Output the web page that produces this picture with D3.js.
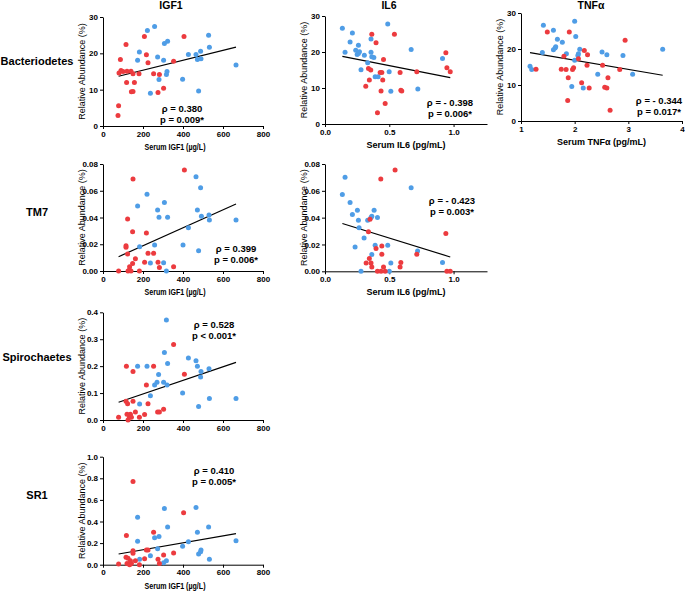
<!DOCTYPE html>
<html>
<head>
<meta charset="utf-8">
<script src="https://cdn.jsdelivr.net/npm/d3@7"></script>
<style>
  body { margin: 0; background: #fff; }
  svg { display: block; font-family: Arial, "Liberation Sans", sans-serif; }
  .axis path, .axis line { stroke: #000; stroke-width: 1px; }
  .axis text { font-size: 8px; font-weight: bold; fill: #000; }
  .fit { stroke: #000; stroke-width: 1.2px; fill: none; }
  .stat { font-size: 9.5px; font-weight: bold; }
</style>
</head>
<body>
<svg id="chart" width="685" height="593"></svg>
<script>
// colours of the two groups
const RED = "#ec3b3f";
const BLUE = "#4f9de6";

// Bacteriodetes vs IGF1  [x, y]
const bactIGF1Red = [[115,22.4],[207,24.6],[405,24.6],[87,18.3],[217,19.6],[225,17.4],[353,17.8],
  [80,14.6],[90,15.3],[100,15.0],[120,15.1],[140,15.1],[150,14.4],[180,14.4],[118,12.0],[157,12.0],
  [142,9.4],[150,9.5],[78,5.6],[75,2.9],[253,14.4],[282,14.2],[275,9.2],[303,10.4]];
const bactIGF1Blue = [[222,26.3],[258,27.4],[182,20.4],[173,18.1],[273,19.0],[303,18.1],[307,22.7],
  [323,23.3],[280,12.8],[317,14.2],[320,15.0],[237,9.0],[398,12.9],[427,19.7],[465,19.7],[472,18.3],
  [488,20.6],[490,18.5],[478,9.6],[528,25.0],[532,21.7],[665,16.8]];
const bactIGF1Fit = [[78,13.7],[665,21.7]];

// Bacteriodetes vs IL6
const bactIL6Red = [[0.364,24.9],[0.397,22.6],[0.54,24.9],[0.455,17.9],[0.338,15.4],[0.356,15.0],
  [0.345,12.2],[0.317,10.5],[0.429,14.3],[0.442,14.3],[0.449,12.2],[0.436,9.2],[0.468,5.7],[0.408,3.1],
  [0.584,14.3],[0.59,9.4],[0.597,9.2],[0.714,14.5],[0.94,19.8],[0.948,15.6],[0.974,14.5]];
const bactIL6Blue = [[0.135,26.6],[0.213,25.3],[0.195,22.8],[0.156,19.9],[0.239,20.5],[0.26,21.9],
  [0.26,19.6],[0.268,20.1],[0.25,19.3],[0.306,19.1],[0.28,15.1],[0.332,17.0],[0.358,23.6],[0.358,19.9],
  [0.364,18.7],[0.38,18.5],[0.39,13.1],[0.413,13.1],[0.488,27.8],[0.499,14.5],[0.512,9.1],[0.67,20.7],
  [0.722,9.7],[0.914,18.2]];
const bactIL6Fit = [[0.135,18.8],[0.974,12.9]];

// Bacteriodetes vs TNFa
const bactTNFRed = [[1.49,24.7],[1.9,24.7],[2.94,22.4],[2.18,19.6],[2.24,18.4],[1.80,18.0],[2.07,17.3],
  [1.28,14.4],[1.75,14.4],[1.84,14.3],[1.96,14.3],[1.98,14.8],[2.23,15.5],[2.52,15.5],[2.84,14.3],
  [1.88,12.0],[2.13,10.6],[2.62,12.0],[2.27,9.2],[2.56,9.4],[2.6,9.2],[1.87,5.7],[2.66,3.0]];
const bactTNFBlue = [[1.417,26.6],[1.604,25.2],[1.678,22.7],[1.77,21.9],[1.398,19.0],[1.604,19.8],
  [1.635,20.3],[1.647,20.6],[1.846,18.7],[2.0,27.7],[2.02,23.5],[2.095,19.9],[2.06,18.2],[2.07,18.7],
  [2.0,16.9],[1.946,9.6],[2.16,9.2],[2.51,19.2],[2.6,18.4],[2.9,18.2],[2.43,13.0],[3.08,13.0],
  [3.64,19.9],[1.168,15.2],[1.2,14.3]];
const bactTNFFit = [[1.168,19.0],[3.64,12.7]];

// TM7 vs IGF1
const tm7IGF1Red = [[78,0],[150,0.0688],[407,0.0755],[123,0.0389],[148,0.0294],[217,0.0284],
  [115,0.0189],[115,0.0177],[123,0.0127],[225,0.0132],[162,0.0092],[148,0.0057],[133,0.0032],
  [132,0.0007],[140,0],[125,0],[182,0],[208,0.0065],[253,0.0132],[275,0.0065],[282,0.0027],[353,0.0032]];
const tm7IGF1Blue = [[220,0.0573],[173,0.0486],[307,0.0513],[273,0.0456],[280,0.0401],[323,0.0401],
  [183,0.0182],[258,0.0194],[237,0.006],[303,0.0062],[317,0],[400,0.0194],[427,0.0324],[465,0.0705],
  [488,0.0623],[472,0.0456],[492,0.0409],[530,0.0419],[532,0.0381],[478,0.0152],[665,0.0381]];
const tm7IGF1Fit = [[78,0.0107],[665,0.0501]];

// TM7 vs IL6
const tm7IL6Red = [[0.434,0.0688],[0.545,0.0755],[0.35,0.0389],[0.338,0.0294],[0.94,0.0282],
  [0.397,0.017],[0.442,0.0189],[0.442,0.0127],[0.714,0.0127],[0.345,0.0095],[0.32,0.0062],
  [0.358,0.0062],[0.364,0.0032],[0.455,0.0032],[0.584,0.0032],[0.59,0.0065],[0.408,0],[0.436,0],
  [0.468,0],[0.948,0],[0.974,0]];
const tm7IL6Blue = [[0.156,0.0702],[0.135,0.0573],[0.195,0.0513],[0.213,0.0424],[0.252,0.0456],
  [0.26,0.0381],[0.265,0.0324],[0.304,0.0249],[0.234,0.0182],[0.28,0],[0.332,0.0381],[0.358,0.0401],
  [0.364,0.0411],[0.382,0.0456],[0.408,0.0401],[0.39,0.0194],[0.364,0.0125],[0.488,0.0194],
  [0.512,0.0062],[0.5,0],[0.67,0.0623],[0.72,0.0152],[0.914,0.0065]];
const tm7IL6Fit = [[0.135,0.0356],[0.974,0.0107]];

// Spirochaetes vs IGF1
const spiroIGF1Red = [[353,0.28],[117,0.20],[253,0.20],[150,0.18],[407,0.17],[217,0.13],[150,0.07],
  [115,0.07],[123,0.06],[225,0.06],[78,0.01],[120,0.021],[137,0.021],[132,0.01],[142,0.01],[125,0.0],
  [162,0.03],[182,0.01],[208,0.02],[273,0.03],[282,0.03],[303,0.04]];
const spiroIGF1Blue = [[317,0.371],[307,0.251],[323,0.21],[173,0.20],[220,0.20],[278,0.169],[270,0.14],
  [258,0.13],[303,0.14],[320,0.13],[183,0.059],[237,0.09],[398,0.10],[427,0.23],[465,0.22],[472,0.20],
  [490,0.18],[488,0.16],[530,0.19],[478,0.05],[532,0.08],[665,0.08]];
const spiroIGF1Fit = [[78,0.066],[665,0.214]];

// SR1 vs IGF1
const sr1IGF1Red = [[150,0.77],[117,0.27],[403,0.48],[253,0.30],[217,0.136],[225,0.136],[353,0.108],
  [150,0.13],[150,0.105],[115,0.068],[125,0.059],[162,0.037],[208,0.056],[275,0.05],[303,0.09],
  [78,0.006],[120,0.012],[133,0],[142,0.012],[137,0.037],[182,0],[282,0.012]];
const sr1IGF1Blue = [[173,0.44],[307,0.52],[465,0.53],[323,0.35],[528,0.35],[472,0.30],[173,0.216],
  [258,0.25],[280,0.26],[427,0.213],[398,0.17],[273,0.148],[237,0.083],[183,0.05],[490,0.136],
  [488,0.12],[478,0.1],[665,0.222],[532,0.05],[317,0.037],[303,0.018]];
const sr1IGF1Fit = [[78,0.099],[665,0.287]];

// tick values and labels
const igf1Ticks = [0, 200, 400, 600, 800];
const il6Ticks = [0, 0.5, 1.0];
const tnfTicks = [1, 2, 3, 4];
const bactTicks = [0, 10, 20, 30];
const tm7Ticks = [0, 0.02, 0.04, 0.06, 0.08];
const spiroTicks = [0, 0.1, 0.2, 0.3, 0.4];
const sr1Ticks = [0, 0.2, 0.4, 0.6, 0.8, 1.0];

const columnTitles = ["IGF1", "IL6", "TNF\u03b1"];
const rowLabels = ["Bacteriodetes", "TM7", "Spirochaetes", "SR1"];
const xTitles = ["Serum IGF1 (\u00b5g/L)", "Serum IL6 (pg/mL)", "Serum TNF\u03b1 (pg/mL)"];
const yTitle = "Relative Abundance (%)";

const statsText = [
  ["\u03c1 = 0.380", "p = 0.009*"],
  ["\u03c1 = - 0.398", "p = 0.006*"],
  ["\u03c1 = - 0.344", "p = 0.017*"],
  ["\u03c1 = 0.399", "p = 0.006*"],
  ["\u03c1 = - 0.423", "p = 0.003*"],
  ["\u03c1 = 0.528", "p < 0.001*"],
  ["\u03c1 = 0.410", "p = 0.005*"]
];

const svg = d3.select("#chart");

// layout of each small plot (xt: x-title settings, tx = centre, tl = squeezed length)
const igfTitle = { text: xTitles[0], tx: 175, tl: 61 };
const il6Title = { text: xTitles[1], tx: 406, tl: null };
const tnfTitle = { text: xTitles[2], tx: 601.5, tl: null };

const panels = [
  { x0: 103, x1: 263, y0: 126, y1: 17, xd: [0, 800], xt: igf1Ticks, xf: "d", yd: [0, 30], yt: bactTicks, yf: "d",
    red: bactIGF1Red, blue: bactIGF1Blue, fit: bactIGF1Fit, stat: statsText[0], sx: 182, sy: 111.5, xTitle: igfTitle },
  { x0: 325, x1: 487, xd: [0, 1.26], y0: 124, y1: 16, xt: il6Ticks, xf: ".1f", yd: [0, 30], yt: bactTicks, yf: "d",
    red: bactIL6Red, blue: bactIL6Blue, fit: bactIL6Fit, stat: statsText[1], sx: 450, sy: 106, xTitle: il6Title },
  { x0: 521, x1: 682, xd: [1, 4], y0: 121, y1: 13, xt: tnfTicks, xf: "d", yd: [0, 30], yt: bactTicks, yf: "d",
    red: bactTNFRed, blue: bactTNFBlue, fit: bactTNFFit, stat: statsText[2], sx: 659, sy: 104, xTitle: tnfTitle },
  { x0: 103, x1: 263, xd: [0, 800], y0: 271, y1: 164, xt: igf1Ticks, xf: "d", yd: [0, 0.08], yt: tm7Ticks, yf: ".2f",
    red: tm7IGF1Red, blue: tm7IGF1Blue, fit: tm7IGF1Fit, stat: statsText[3], sx: 236, sy: 252.3, xTitle: igfTitle },
  { x0: 325, x1: 487, xd: [0, 1.26], y0: 271.3, y1: 164, xt: il6Ticks, xf: ".1f", yd: [0, 0.08], yt: tm7Ticks, yf: ".2f",
    red: tm7IL6Red, blue: tm7IL6Blue, fit: tm7IL6Fit, stat: statsText[4], sx: 452, sy: 204.3, xTitle: il6Title },
  { x0: 103, x1: 263, xd: [0, 800], y0: 420, y1: 312.3, xt: igf1Ticks, xf: "d", yd: [0, 0.4], yt: spiroTicks, yf: ".1f",
    red: spiroIGF1Red, blue: spiroIGF1Blue, fit: spiroIGF1Fit, stat: statsText[5], sx: 214, sy: 327.7, xTitle: null },
  { x0: 103, x1: 263, xd: [0, 800], y0: 564.7, y1: 456.7, xt: igf1Ticks, xf: "d", yd: [0, 1], yt: sr1Ticks, yf: ".1f",
    red: sr1IGF1Red, blue: sr1IGF1Blue, fit: sr1IGF1Fit, stat: statsText[6], sx: 214, sy: 474.3, xTitle: igfTitle }
];

panels.forEach((p) => {
  const x = d3.scaleLinear().domain(p.xd).range([p.x0, p.x1]);
  const y = d3.scaleLinear().domain(p.yd).range([p.y0, p.y1]);

  svg.append("g")
    .attr("class", "axis")
    .attr("transform", `translate(0,${p.y0})`)
    .call(d3.axisBottom(x).tickValues(p.xt).tickFormat(d3.format(p.xf)).tickSize(3).tickSizeOuter(0).tickPadding(2));

  svg.append("g")
    .attr("class", "axis")
    .attr("transform", `translate(${p.x0},0)`)
    .call(d3.axisLeft(y).tickValues(p.yt).tickFormat(d3.format(p.yf)).tickSize(3).tickSizeOuter(0).tickPadding(2));

  // y title
  const cy = (p.y0 + p.y1) / 2;
  svg.append("text")
    .attr("transform", `translate(${p.x0 - 18},${cy}) rotate(-90)`)
    .attr("text-anchor", "middle")
    .attr("font-size", 9)
    .text(yTitle);

  if (p.xTitle) {
    const t = svg.append("text")
      .attr("x", p.xTitle.tx)
      .attr("y", p.y0 + 24)
      .attr("text-anchor", "middle")
      .attr("font-size", 9)
      .attr("font-weight", "bold")
      .text(p.xTitle.text);
    if (p.xTitle.tl) t.attr("textLength", p.xTitle.tl).attr("lengthAdjust", "spacingAndGlyphs");
  }

  svg.append("path")
    .attr("class", "fit")
    .attr("d", d3.line().x((d) => x(d[0])).y((d) => y(d[1]))(p.fit));

  const dots = p.blue.map((d) => ({ d, c: BLUE })).concat(p.red.map((d) => ({ d, c: RED })));
  svg.append("g")
    .selectAll("circle")
    .data(dots)
    .enter()
    .append("circle")
    .attr("cx", (o) => x(o.d[0]))
    .attr("cy", (o) => y(o.d[1]))
    .attr("r", 2.5)
    .attr("fill", (o) => o.c);

  svg.append("g")
    .selectAll("text")
    .data(p.stat)
    .enter()
    .append("text")
    .attr("class", "stat")
    .attr("x", p.sx)
    .attr("y", (d, i) => p.sy + i * 11)
    .attr("text-anchor", "middle")
    .text((d) => d);
});

// column titles
const titleX = [171, 389, 591];
svg.selectAll(".coltitle")
  .data(columnTitles)
  .enter()
  .append("text")
  .attr("class", "coltitle")
  .attr("x", (d, i) => titleX[i])
  .attr("y", 9)
  .attr("text-anchor", "middle")
  .attr("font-size", 10.5)
  .attr("font-weight", "bold")
  .text((d) => d);

// row labels
const rowY = [65, 216, 361, 499];
svg.selectAll(".rowlabel")
  .data(rowLabels)
  .enter()
  .append("text")
  .attr("class", "rowlabel")
  .attr("x", 37)
  .attr("y", (d, i) => rowY[i])
  .attr("text-anchor", "middle")
  .attr("font-size", 11)
  .attr("font-weight", "bold")
  .text((d) => d);
</script>
</body>
</html>
